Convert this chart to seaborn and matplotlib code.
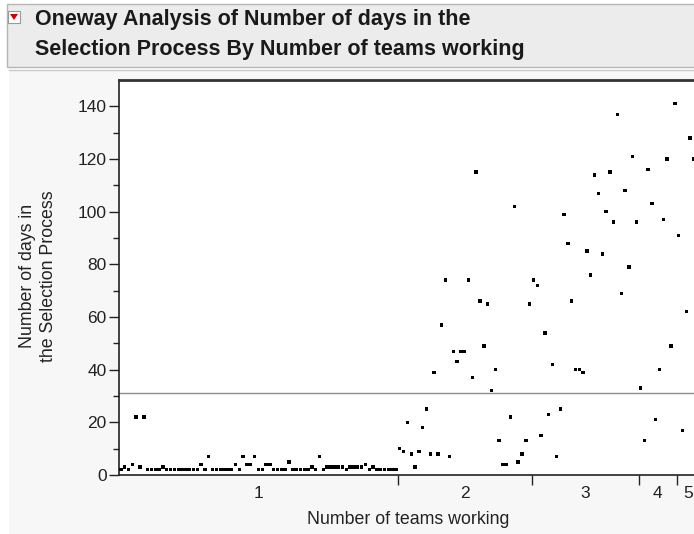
import numpy as np
import pandas as pd
import matplotlib
matplotlib.use("Agg")
import matplotlib.pyplot as plt
import seaborn as sns
from matplotlib.patches import Rectangle, Polygon
from matplotlib.lines import Line2D

# ---- data (left-to-right within each group) ----
group_labels = ["1", "2", "3", "4", "5"]
days_1 = [2, 3, 2, 4, 22, 3, 22, 2, 2, 2, 2, 3, 2, 2, 2, 2, 2, 2, 2, 2,
          2, 4, 2, 7, 2, 2, 2, 2, 2, 2, 4, 2, 7, 4, 4, 7, 2, 2, 4, 4,
          2, 2, 2, 2, 5, 2, 2, 2, 2, 2, 3, 2, 7, 2, 3, 3, 3, 3, 3, 2,
          3, 3, 3, 3, 4, 2, 3, 2, 2, 2, 2, 2, 2]
days_2 = [10, 9, 20, 8, 3, 9, 18, 25, 8, 39, 8, 57, 74, 7, 47, 43, 47, 47, 74, 37,
          115, 66, 49, 65, 32, 40, 13, 4, 4, 22, 102, 5, 8, 13, 65]
days_3 = [74, 72, 15, 54, 23, 42, 7, 25, 99, 88, 66, 40, 40, 39, 85, 76, 114, 107,
          84, 100, 115, 96, 137, 69, 108, 79, 121, 96]
days_4 = [33, 13, 116, 103, 21, 40, 97, 120, 49, 141]
days_5 = [91, 17, 62, 128, 120, 92]
y_ticks = [0, 20, 40, 60, 80, 100, 120, 140]

all_groups = [days_1, days_2, days_3, days_4, days_5]

# Build table: x-axis proportional to group size (JMP style)
rows = []
start = 0
bounds = []
centers = []
for lab, vals in zip(group_labels, all_groups):
    n = len(vals)
    for i, v in enumerate(vals):
        rows.append({"teams": lab, "pos": start + i + 0.5, "days": v})
    centers.append(start + n / 2)
    start += n
    bounds.append(start)
df = pd.DataFrame(rows)
total = start
grand_mean = df["days"].mean()

plt.rcParams["font.family"] = ["Liberation Sans", "DejaVu Sans"]

W, H = 694, 534
fig = plt.figure(figsize=(W / 100, H / 100), dpi=100)
fig.patch.set_facecolor("white")

def fx(x):
    return x / W

def fy(y):
    return 1 - y / H

# panel background
fig.patches.append(Rectangle((fx(9), 0), 1, fy(70), transform=fig.transFigure,
                             facecolor="#f7f7f7", edgecolor="none", zorder=-10))
fig.add_artist(Line2D([fx(9), 1], [fy(70), fy(70)], color="#c9c9c9", lw=1, zorder=-9))
# header
fig.patches.append(Rectangle((fx(7), fy(67)), 1, fy(4) - fy(67), transform=fig.transFigure,
                             facecolor="#ececec", edgecolor="#b5b5b5", lw=1, zorder=-9))
# disclosure icon
fig.patches.append(Rectangle((fx(8), fy(23)), fx(12), fy(11) - fy(23), transform=fig.transFigure,
                             facecolor="white", edgecolor="#9a9a9a", lw=0.8, zorder=2))
fig.patches.append(Polygon([[fx(10), fy(14)], [fx(18), fy(14)], [fx(14), fy(20)]], closed=True,
                           transform=fig.transFigure, facecolor="#cc0000", edgecolor="none", zorder=3))
fig.text(fx(35), fy(20), "Oneway Analysis of Number of days in the", fontsize=15.5,
         fontweight="bold", color="#1a1a1a", va="center", ha="left")
fig.text(fx(35), fy(49), "Selection Process By Number of teams working", fontsize=15.5,
         fontweight="bold", color="#1a1a1a", va="center", ha="left")

# axes: 0 at y=475, 150 at y=80; x from 119 with 3.82 px per row
left_px, right_px = 119, 119 + total * 3.82
ax = fig.add_axes([fx(left_px), 1 - 475 / H, (right_px - left_px) / W, (475 - 80) / H])
ax.set_zorder(5)
ax.set_facecolor("white")

sns.scatterplot(data=df, x="pos", y="days", ax=ax, marker="s", s=6, color="black",
                edgecolor="none", linewidth=0, legend=False, zorder=3)
ax.axhline(grand_mean, color="#8c8c8c", lw=1, zorder=2)

ax.set_xlim(0, total)
ax.set_ylim(0, 150)

ax.set_yticks(y_ticks)
ax.set_yticklabels([str(t) for t in y_ticks])
ax.set_yticks([10, 30, 50, 70, 90, 110, 130], minor=True)
ax.tick_params(axis="y", which="major", length=7, width=1, pad=2, labelsize=12.5,
               colors="#222222")
ax.tick_params(axis="y", which="minor", length=4, width=1, colors="#222222")

ax.set_xticks(bounds)
ax.set_xticklabels([""] * len(bounds))
ax.set_xticks(centers, minor=True)
ax.set_xticklabels(group_labels, minor=True)
ax.tick_params(axis="x", which="major", length=7, width=1, colors="#222222")
ax.tick_params(axis="x", which="minor", length=0, pad=8, labelsize=12.5, colors="#222222")

for side in ["left", "bottom"]:
    ax.spines[side].set_color("#222222")
    ax.spines[side].set_linewidth(1.2)
ax.spines["top"].set_color("#333333")
ax.spines["top"].set_linewidth(2)
ax.spines["right"].set_visible(False)

ax.set_xlabel("")
ax.set_ylabel("")
fig.text(fx(408), fy(520), "Number of teams working", fontsize=12.8, color="#222222",
         ha="center", va="center")
fig.text(fx(38), fy(276), "Number of days in\nthe Selection Process", fontsize=12.8,
         color="#222222", ha="center", va="center", rotation=90, linespacing=1.35)

fig.savefig("out.png", dpi=100, facecolor=fig.get_facecolor())
